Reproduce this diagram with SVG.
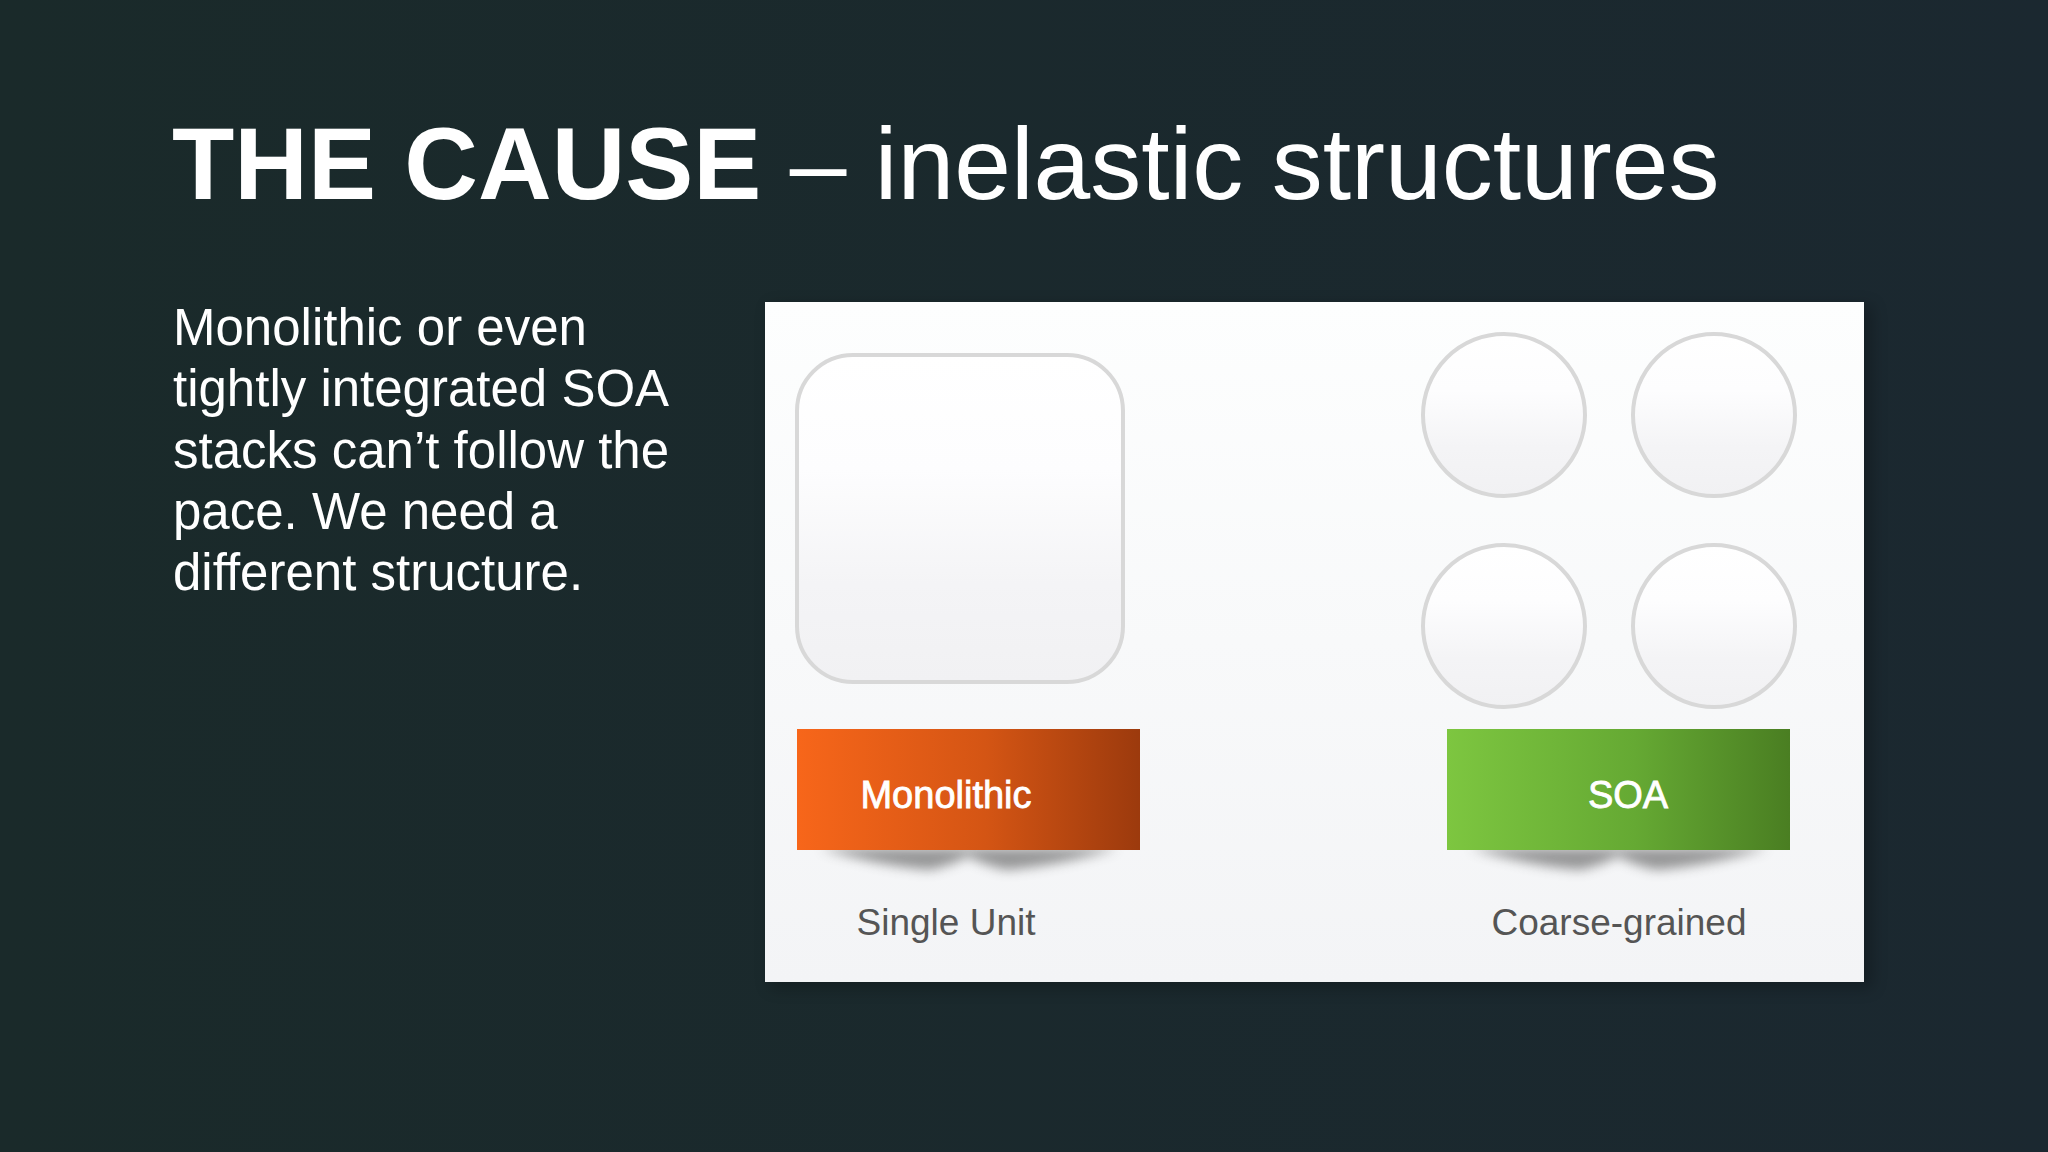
<svg xmlns="http://www.w3.org/2000/svg" width="2048" height="1152" viewBox="0 0 2048 1152">
  <defs>
    <linearGradient id="bg" x1="0" y1="0" x2="1" y2="0">
      <stop offset="0" stop-color="#1a2a2a"/>
      <stop offset="1" stop-color="#1b2830"/>
    </linearGradient>
    <linearGradient id="panel" x1="0" y1="0" x2="0" y2="1">
      <stop offset="0" stop-color="#fdfefe"/>
      <stop offset="1" stop-color="#f3f4f6"/>
    </linearGradient>
    <linearGradient id="shapeFill" x1="0" y1="0" x2="0" y2="1">
      <stop offset="0" stop-color="#ffffff"/>
      <stop offset="0.35" stop-color="#fdfdfe"/>
      <stop offset="0.7" stop-color="#f4f4f6"/>
      <stop offset="1" stop-color="#f1f1f3"/>
    </linearGradient>
    <linearGradient id="orange" x1="0" y1="0" x2="1" y2="0">
      <stop offset="0" stop-color="#f7661a"/>
      <stop offset="0.55" stop-color="#d45514"/>
      <stop offset="1" stop-color="#9c3a0d"/>
    </linearGradient>
    <linearGradient id="green" x1="0" y1="0" x2="1" y2="0">
      <stop offset="0" stop-color="#7dc640"/>
      <stop offset="0.55" stop-color="#65a933"/>
      <stop offset="1" stop-color="#4a7e22"/>
    </linearGradient>
    <filter id="blur" x="-20%" y="-100%" width="140%" height="300%">
      <feGaussianBlur stdDeviation="6"/>
    </filter>
    <filter id="pshadow" x="-5%" y="-5%" width="110%" height="110%">
      <feGaussianBlur stdDeviation="8"/>
    </filter>
  </defs>
  <style>
    .title { font-family: "Liberation Sans", Arial, sans-serif; font-size: 102px; fill: #ffffff; }
    .body { font-family: "Liberation Sans", Arial, sans-serif; font-size: 51px; fill: #ffffff; }
    .shape { fill: url(#shapeFill); stroke: #d8d8d8; stroke-width: 4; }
    .banner-text { font-family: "Liberation Sans", Arial, sans-serif; font-size: 38px; fill: #ffffff; text-anchor: middle; stroke: #ffffff; stroke-width: 0.8; }
    .caption { font-family: "Liberation Sans", Arial, sans-serif; font-size: 37px; fill: #555555; text-anchor: middle; }
    .shadow { fill: #4a4a4a; opacity: 0.55; filter: url(#blur); }
  </style>

  <rect x="0" y="0" width="2048" height="1152" fill="url(#bg)"/>

  <g id="title">
    <text class="title" x="172" y="199"><tspan font-weight="bold">THE CAUSE</tspan> – inelastic structures</text>
  </g>

  <g id="body-text">
    <text class="body" x="173" y="345">Monolithic or even</text>
    <text class="body" x="173" y="406">tightly integrated SOA</text>
    <text class="body" x="173" y="468">stacks can’t follow the</text>
    <text class="body" x="173" y="529">pace. We need a</text>
    <text class="body" x="173" y="590">different structure.</text>
  </g>

  <g id="panel">
    <rect x="770" y="306" width="1102" height="682" fill="#000000" opacity="0.25" filter="url(#pshadow)"/>
    <rect x="765" y="302" width="1099" height="680" fill="url(#panel)"/>
  </g>

  <g id="monolith-shape">
    <rect class="shape" x="797" y="355" width="326" height="327" rx="56" ry="56"/>
  </g>

  <g id="soa-circles">
    <circle class="shape" cx="1504" cy="415" r="81"/>
    <circle class="shape" cx="1714" cy="415" r="81"/>
    <circle class="shape" cx="1504" cy="626" r="81"/>
    <circle class="shape" cx="1714" cy="626" r="81"/>
  </g>

  <g id="monolithic-banner">
    <path class="shadow" d="M820 848 Q880 866 930 870 Q955 864 968 856 Q981 864 1006 870 Q1056 866 1118 848 Z"/>
    <rect x="797" y="729" width="343" height="121" fill="url(#orange)"/>
    <text class="banner-text" x="946" y="808">Monolithic</text>
    <text class="caption" x="946" y="935">Single Unit</text>
  </g>

  <g id="soa-banner">
    <path class="shadow" d="M1470 848 Q1530 866 1580 870 Q1605 864 1618 856 Q1631 864 1656 870 Q1706 866 1768 848 Z"/>
    <rect x="1447" y="729" width="343" height="121" fill="url(#green)"/>
    <text class="banner-text" x="1628" y="808">SOA</text>
    <text class="caption" x="1619" y="935">Coarse-grained</text>
  </g>

  <g id="connectors"/>
</svg>
